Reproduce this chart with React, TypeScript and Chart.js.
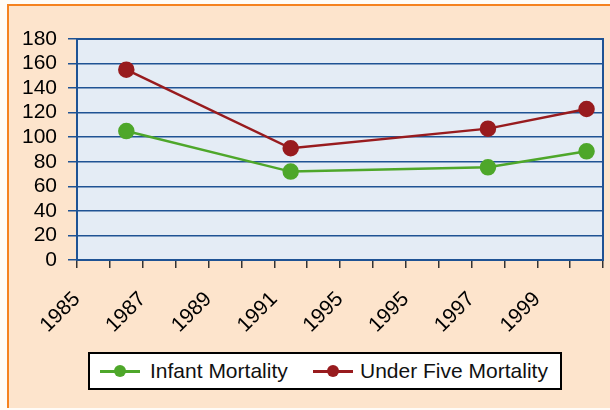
import React, { useEffect, useRef } from "react";
import { Chart, registerables } from "chart.js";

Chart.register(...registerables);

// x positions are in "year slot" units along the axis (16 slots, labelled every other boundary)
const tickLabels = ["1985", "", "1987", "", "1989", "", "1991", "", "1995", "", "1995", "", "1997", "", "1999", "", ""];
const surveyPositions = [1.5, 6.5, 12.5, 15.5];
const infantMortality = [105, 72, 75.5, 88.5];
const underFiveMortality = [155, 91, 107, 123];
const yTicks = [0, 20, 40, 60, 80, 100, 120, 140, 160, 180];

const FONT = "'Liberation Sans', Arial, sans-serif";
const GREEN = "#4ea72a";
const RED = "#981b1e";
const GRID = "#1f5394";

const plotBg = {
  id: "plotBg",
  beforeDraw(chart: any) {
    const { ctx, chartArea } = chart;
    ctx.save();
    ctx.fillStyle = "#e4ecf5";
    ctx.fillRect(chartArea.left, chartArea.top, chartArea.right - chartArea.left, chartArea.bottom - chartArea.top);
    ctx.restore();
  },
  beforeDatasetsDraw(chart: any) {
    const { ctx, chartArea } = chart;
    ctx.save();
    ctx.strokeStyle = GRID;
    ctx.lineWidth = 2;
    ctx.strokeRect(chartArea.left, chartArea.top, chartArea.right - chartArea.left, chartArea.bottom - chartArea.top);
    ctx.restore();
  },
};

export default function App() {
  const ref = useRef<HTMLCanvasElement>(null);
  useEffect(() => {
    if (!ref.current) return;
    const chart = new Chart(ref.current, {
      type: "line",
      data: {
        datasets: [
          {
            label: "Infant Mortality",
            data: surveyPositions.map((x, i) => ({ x, y: infantMortality[i] })),
            borderColor: GREEN,
            backgroundColor: GREEN,
            pointBackgroundColor: GREEN,
            pointBorderColor: GREEN,
            borderWidth: 2.5,
            pointRadius: 7,
            tension: 0,
          },
          {
            label: "Under Five Mortality",
            data: surveyPositions.map((x, i) => ({ x, y: underFiveMortality[i] })),
            borderColor: RED,
            backgroundColor: RED,
            pointBackgroundColor: RED,
            pointBorderColor: RED,
            borderWidth: 2.5,
            pointRadius: 7,
            tension: 0,
          },
        ],
      },
      options: {
        animation: false,
        responsive: false,
        maintainAspectRatio: false,
        layout: { autoPadding: false, padding: { top: 39, right: 7, left: 0, bottom: 0 } },
        plugins: { legend: { display: false }, tooltip: { enabled: false } },
        scales: {
          x: {
            type: "linear",
            min: 0,
            max: tickLabels.length - 1,
            afterFit(scale: any) {
              scale.height = 150;
              scale.paddingRight = 0;
              scale.paddingLeft = 0;
            },
            ticks: {
              stepSize: 1,
              autoSkip: false,
              maxRotation: 45,
              minRotation: 45,
              padding: 19,
              color: "#000",
              font: { family: FONT, size: 21 },
              callback: (v: any) => tickLabels[Math.round(Number(v))] ?? "",
            },
            grid: { drawOnChartArea: false, drawTicks: true, tickLength: 8, tickColor: "#333", lineWidth: 1.5 },
            border: { display: true, color: GRID, width: 2 },
          },
          y: {
            min: 0,
            max: 180,
            afterFit(scale: any) {
              scale.width = 77;
            },
            afterBuildTicks(scale: any) {
              scale.ticks = yTicks.map((v) => ({ value: v }));
            },
            ticks: {
              autoSkip: false,
              padding: 11,
              color: "#000",
              font: { family: FONT, size: 21 },
            },
            grid: { color: GRID, lineWidth: 1.5, tickLength: 9, tickColor: GRID },
            border: { display: true, color: GRID, width: 2 },
          },
        },
      },
      plugins: [plotBg],
    });
    return () => chart.destroy();
  }, []);

  const itemText: React.CSSProperties = {
    position: "absolute",
    top: 0,
    lineHeight: "34px",
    fontFamily: FONT,
    fontSize: 21,
    color: "#111",
    whiteSpace: "nowrap",
  };
  const marker = (color: string, left: number) => (
    <div style={{ position: "absolute", left, top: 0, width: 40, height: 34 }}>
      <div style={{ position: "absolute", left: 0, top: 16, width: 40, height: 2.5, background: color }} />
      <div style={{ position: "absolute", left: 14, top: 11, width: 12, height: 12, borderRadius: 6, background: color }} />
    </div>
  );

  return (
    <div style={{ position: "fixed", left: 0, top: 0, width: 610, height: 410, background: "#fffcf7", overflow: "hidden" }}>
      <div
        style={{
          position: "absolute",
          left: 7,
          top: 4,
          width: 620,
          height: 404,
          background: "#fde4cc",
          borderLeft: "2px solid #f5821f",
          borderTop: "2px solid #f5821f",
          boxSizing: "border-box",
        }}
      />
      <canvas ref={ref} width={610} height={410} style={{ position: "absolute", left: 0, top: 0, width: 610, height: 410 }} />
      <div
        style={{
          position: "absolute",
          left: 88,
          top: 352,
          width: 474,
          height: 38,
          border: "2px solid #000",
          background: "#fff",
          boxSizing: "border-box",
        }}
      >
        {marker(GREEN, 10)}
        <div style={{ ...itemText, left: 60 }}>Infant Mortality</div>
        {marker(RED, 223)}
        <div style={{ ...itemText, left: 270 }}>Under Five Mortality</div>
      </div>
    </div>
  );
}
